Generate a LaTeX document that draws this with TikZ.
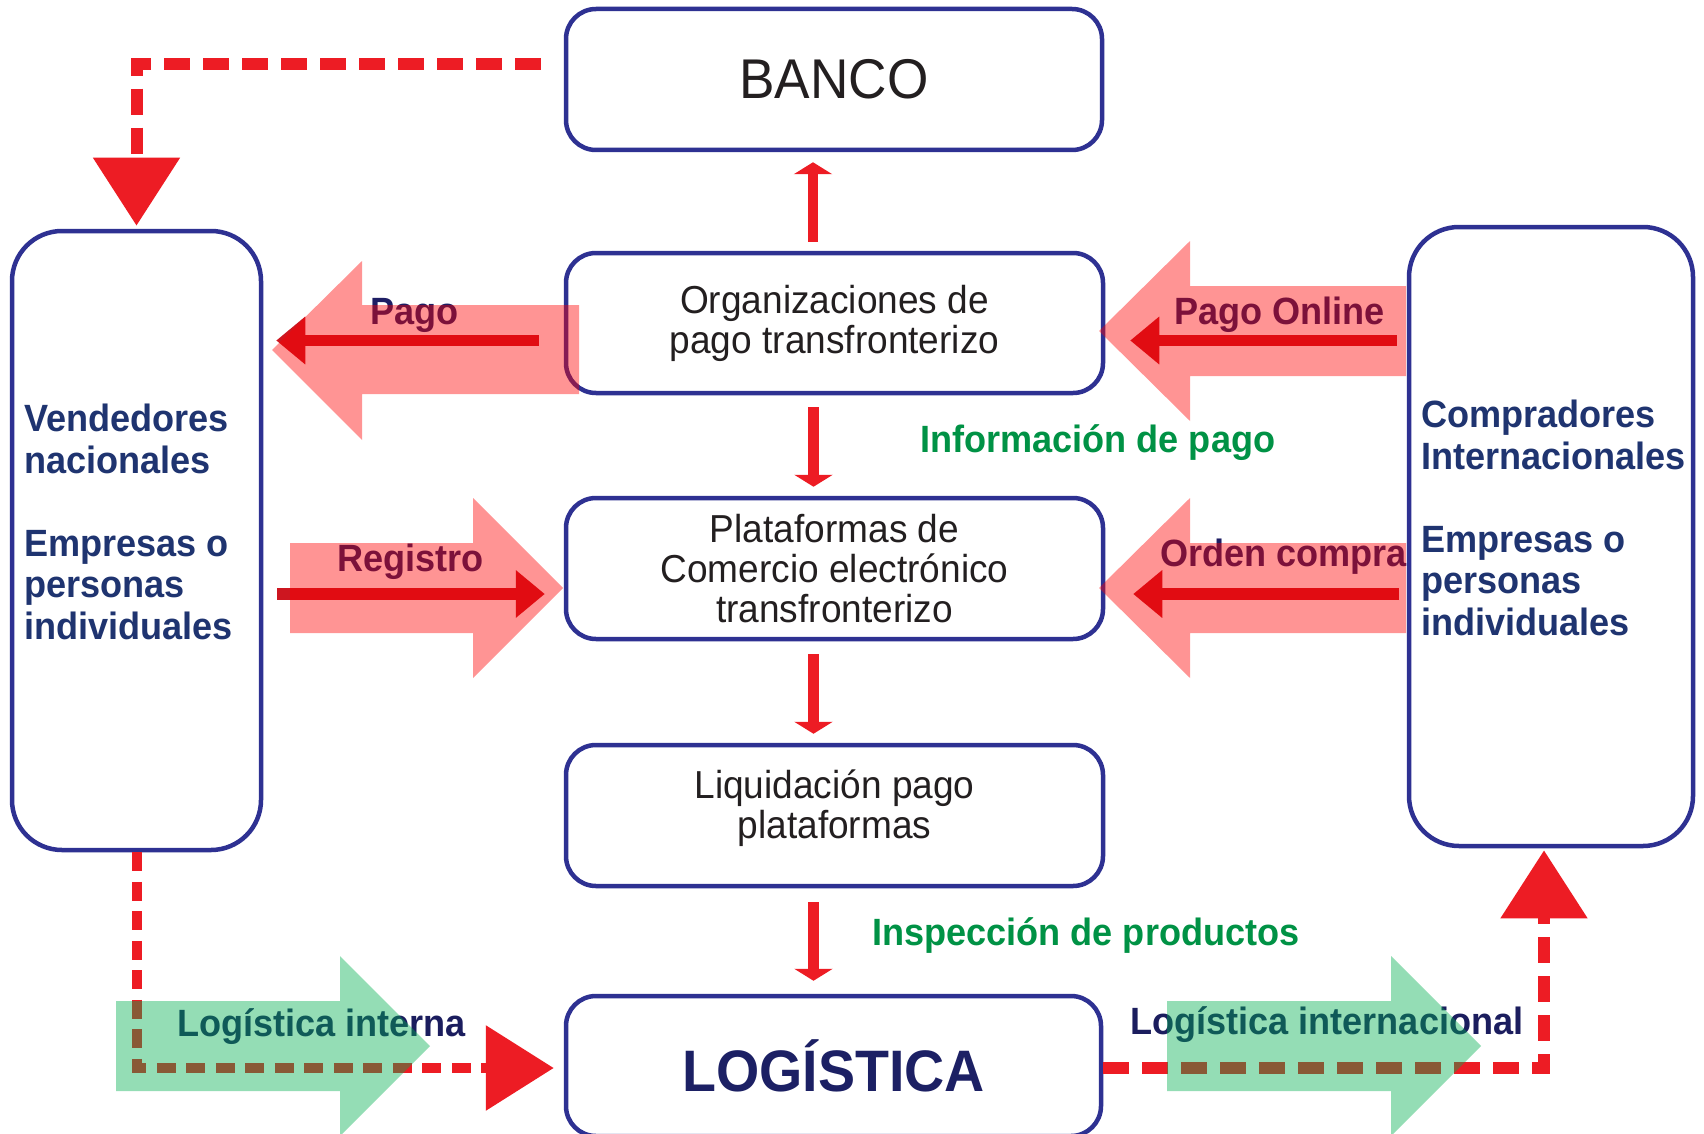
\documentclass[tikz,border=0pt]{standalone}
\usepackage{fontspec}
\setmainfont{Liberation Sans}[FakeStretch=0.95]
\usetikzlibrary{arrows.meta}
\definecolor{boxblue}{RGB}{46,49,146}
\definecolor{navy}{RGB}{31,52,112}
\definecolor{labnavy}{RGB}{30,30,100}
\definecolor{navyb}{RGB}{27,29,94}
\definecolor{lognavy}{RGB}{28,32,100}
\definecolor{dred}{RGB}{237,28,36}
\definecolor{sred}{RGB}{205,22,32}
\definecolor{gtext}{RGB}{0,146,69}
\definecolor{ttext}{RGB}{35,31,32}
\definecolor{ovgreen}{RGB}{0,175,80}
\newcommand\fsbox{\fontsize{39}{40}\selectfont}
\newcommand\fsbanco{\fontsize{56}{60}\selectfont}
\newcommand\fslog{\bfseries\fontsize{58.5}{60}\selectfont}
\newcommand\fslab{\bfseries\fontsize{38}{41.5}\selectfont}
\begin{document}
\begin{tikzpicture}[x=1pt,y=-1pt,
  cbox/.style={draw=boxblue, line width=4.5pt, rounded corners=30pt, minimum width=537pt, minimum height=141pt, inner sep=0pt, align=center, text=ttext, font=\fsbox},
  tbox/.style={draw=boxblue, line width=4.5pt, rounded corners=50pt, inner sep=0pt, minimum height=619pt},
  sidetext/.style={anchor=north west, inner sep=0pt, align=left, font=\fslab, text=navy},
  lab/.style={anchor=base west, inner sep=0pt, font=\fslab},
  varr/.style={draw=dred, line width=10.5pt, -{Triangle[length=12pt,width=38pt]}},
  harr/.style={draw=sred, line width=11.5pt, -{Triangle[length=29pt,width=46pt]}},
  dashA/.style={draw=dred, line width=12pt, dash pattern=on 26pt off 13pt, -{Triangle[length=68pt,width=84pt]}},
  dashB/.style={draw=dred, line width=10pt, dash pattern=on 19pt off 10.5pt, -{Triangle[length=68pt,width=83pt]}},
  pinkarrow/.style={fill=red, fill opacity=0.42},
  greenarrow/.style={fill=ovgreen, fill opacity=0.42}]
\fill[white] (0,0) rectangle (1704,1134);
\useasboundingbox (0,0) rectangle (1704,1134);

% boxes
\node[cbox, minimum width=536pt, font=\fsbanco] (banco) at (834,79.5) {BANCO};
\node[cbox, minimum height=140pt] (org) at (834.5,323) {Organizaciones de\\pago transfronterizo};
\node[cbox] (plat) at (834.5,568.5) {Plataformas de\\Comercio electrónico\\transfronterizo};
\node[cbox] (liq) at (834.5,815.5) {Liquidación pago\\plataformas\rule[-22pt]{0pt}{1pt}};
\node[cbox, minimum width=535pt, minimum height=140pt, font=\fslog, text=lognavy] (log) at (833.5,1066) {LOGÍSTICA};
\node[tbox, minimum width=249pt] (vend) at (136.5,540.5) {};
\node[tbox, minimum width=284pt] (comp) at (1551,536.5) {};

% side texts
\node[sidetext] (vendt) at (24,404) {Vendedores\\nacionales\\[41.5pt]Empresas o\\personas\\individuales};
\node[sidetext] (compt) at (1421,400) {Compradores\\Internacionales\\[41.5pt]Empresas o\\personas\\individuales};

% labels
\node[lab, text=labnavy] (lpago) at (370,324) {Pago};
\node[lab, text=labnavy] (lonline) at (1174,324) {Pago Online};
\node[lab, text=labnavy] (lreg) at (337,571) {Registro};
\node[lab, text=labnavy] (lorden) at (1160,566) {Orden compra};
\node[lab, text=gtext] (linfo) at (920,452) {Información de pago};
\node[lab, text=gtext] (linsp) at (872,945) {Inspección de productos};
\node[lab, text=navyb] (lint) at (177,1036) {Logística interna};
\node[lab, text=navyb] (lintl) at (1130,1034) {Logística internacional};

% dashed connectors
\coordinate (bs) at ([xshift=-23pt,yshift=15.5pt]banco.west);
\draw[dashA, shorten >=3pt] (bs) -- (bs -| vend.north) -- (vend.north);
\coordinate (lb) at ([yshift=-2pt]log.west);
\draw[dashB, shorten >=10pt] (vend.south) -- (vend.south |- lb) -- (lb);
\coordinate (rb) at ([yshift=-2pt]log.east);
\coordinate (ct) at ([xshift=-7pt]comp.south);
\draw[dashA, shorten >=2pt] (rb) -- (rb -| ct) -- (ct);

% vertical arrows
\draw[varr, shorten <=9pt, shorten >=10pt] ([xshift=-21.5pt]org.north) -- ([xshift=-21pt]banco.south);
\draw[varr, shorten <=12pt, shorten >=9pt] ([xshift=-21pt]org.south) -- ([xshift=-21pt]plat.north);
\draw[varr, shorten <=13pt, shorten >=9pt] ([xshift=-21pt]plat.south) -- ([xshift=-21pt]liq.north);
\draw[varr, shorten <=14pt, shorten >=13pt] ([xshift=-21pt]liq.south) -- ([xshift=-20pt]log.north);

% horizontal red arrows
\coordinate (o1) at ([yshift=-17.5pt]org.west);
\draw[harr, shorten <=25pt, shorten >=13pt] (o1) -- (o1 -| vend.east);
\draw[harr, shorten <=10pt, shorten >=25pt] (o1 -| comp.west) -- ([yshift=-17.5pt]org.east);
\coordinate (p1) at ([yshift=-25.5pt]plat.west);
\draw[harr, shorten <=14pt, shorten >=19pt] (p1 -| vend.east) -- (p1);
\draw[harr, shorten <=8pt, shorten >=28pt] (p1 -| comp.west) -- ([yshift=-25.5pt]plat.east);

% translucent big arrows
\fill[pinkarrow] (579,305) -- (362,305) -- (362,261) -- (272,350) -- (362,440) -- (362,394) -- (579,394) -- cycle;
\fill[pinkarrow] (1406,286) -- (1190,286) -- (1190,241) -- (1099,331) -- (1190,421) -- (1190,376) -- (1406,376) -- cycle;
\fill[pinkarrow] (290,543) -- (473,543) -- (473,498) -- (563,588) -- (473,678) -- (473,633) -- (290,633) -- cycle;
\fill[pinkarrow] (1406,543) -- (1190,543) -- (1190,498) -- (1099,588) -- (1190,678) -- (1190,633) -- (1406,633) -- cycle;
\fill[greenarrow] (116,1001) -- (340,1001) -- (340,956) -- (430,1046) -- (340,1136) -- (340,1091) -- (116,1091) -- cycle;
\fill[greenarrow] (1167,1001) -- (1391,1001) -- (1391,956) -- (1481,1046) -- (1391,1136) -- (1391,1091) -- (1167,1091) -- cycle;
\end{tikzpicture}
\end{document}
